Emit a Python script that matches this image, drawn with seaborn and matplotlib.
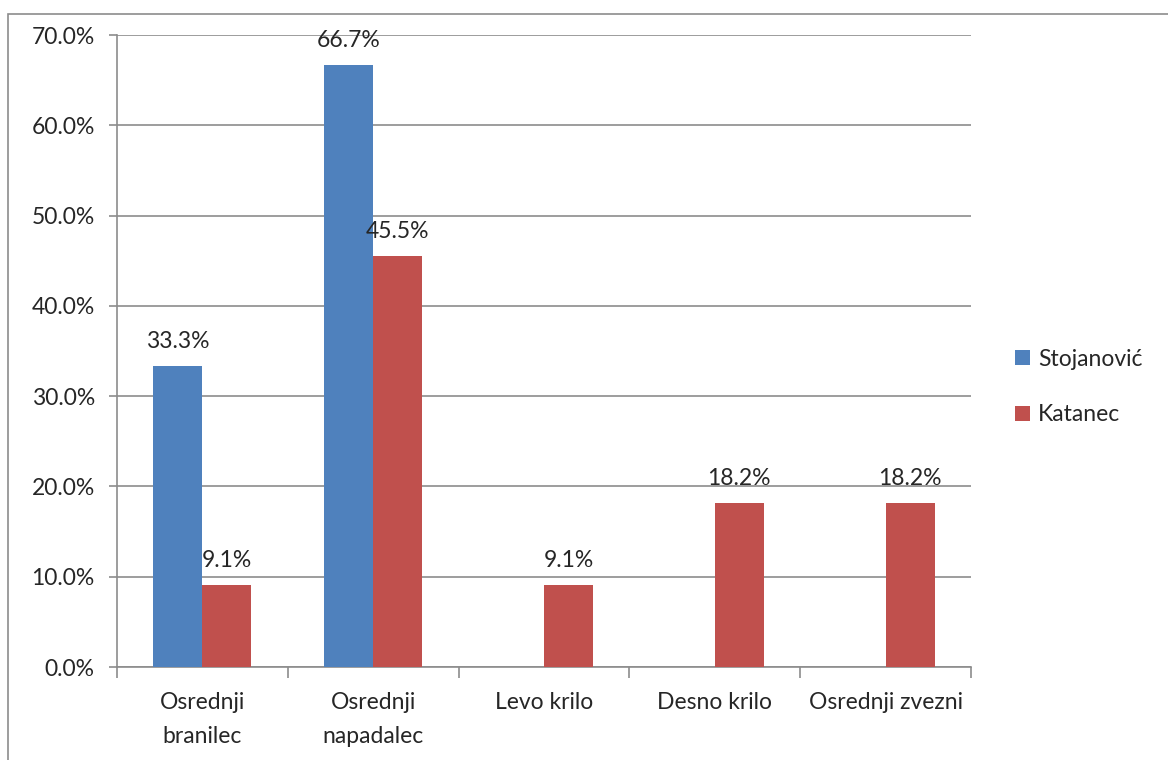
import pandas as pd
import matplotlib.pyplot as plt
import seaborn as sns
from matplotlib.patches import Rectangle

positions = ['Osrednji\nbranilec', 'Osrednji\nnapadalec', 'Levo krilo', 'Desno krilo', 'Osrednji zvezni']
stojanovic = [33.3, 66.7, 0, 0, 0]
katanec = [9.1, 45.5, 9.1, 18.2, 18.2]
coaches = ['Stojanović', 'Katanec']
colors = ['#4F81BD', '#C0504D']

df = pd.DataFrame({
    'pozicija': positions * 2,
    'trener': [coaches[0]] * 5 + [coaches[1]] * 5,
    'delez': stojanovic + katanec,
})

sns.set_style('white')
plt.rcParams['font.family'] = ['Lato', 'DejaVu Sans']
FS = 16.5

fig = plt.figure(figsize=(11.68, 7.6), dpi=100)
ax = fig.add_axes([117 / 1168, 1 - 667 / 760, (971 - 117) / 1168, (667 - 35) / 760])

sns.barplot(data=df, x='pozicija', y='delez', hue='trener', palette=colors,
            width=0.574, gap=0, ax=ax, zorder=3, saturation=1, linewidth=0)

# data labels above bars (skip zero bars)
for cont in ax.containers:
    labels = [f'{v:.1f}%' if v > 0 else '' for v in cont.datavalues]
    ax.bar_label(cont, labels=labels, padding=10, fontsize=FS)

ax.set_ylim(0, 70)
ax.set_xlim(-0.5, 4.5)
ax.set_yticks(range(0, 71, 10))
ax.set_yticklabels([f'{v:.1f}%' for v in range(0, 71, 10)], fontsize=FS)
ax.yaxis.grid(True, color='#8c8c8c', linewidth=1.2, zorder=0)
ax.set_axisbelow(True)

# category ticks at group boundaries, labels at centers
ax.set_xticks([i - 0.5 for i in range(6)], minor=False)
ax.set_xticklabels([''] * 6)
ax.set_xticks(range(5), minor=True)
ax.set_xticklabels(positions, minor=True, fontsize=FS, linespacing=1.75)
ax.tick_params(axis='x', which='major', direction='out', length=8, color='#8c8c8c', width=1.2, bottom=True)
ax.tick_params(axis='x', which='minor', length=0, pad=18)
ax.tick_params(axis='y', direction='out', length=6, color='#8c8c8c', width=1.2, left=True, pad=10)

ax.set_xlabel('')
ax.set_ylabel('')
for side in ['top', 'right']:
    ax.spines[side].set_visible(False)
for side in ['left', 'bottom']:
    ax.spines[side].set_color('#8c8c8c')
    ax.spines[side].set_linewidth(1.2)

leg = ax.legend(loc='center left', bbox_to_anchor=(1.0515, 0.443), frameon=False,
                fontsize=FS, handlelength=0.65, handleheight=0.65,
                handletextpad=0.35, labelspacing=1.5, borderpad=0, borderaxespad=0)

# outer chart frame
fig.patches.append(Rectangle((8 / 1168, -0.01), 1.2, 1 - 14 / 760 + 0.01,
                             transform=fig.transFigure, fill=False,
                             edgecolor='#8c8c8c', linewidth=1.2))

fig.savefig('out.png', dpi=100)
